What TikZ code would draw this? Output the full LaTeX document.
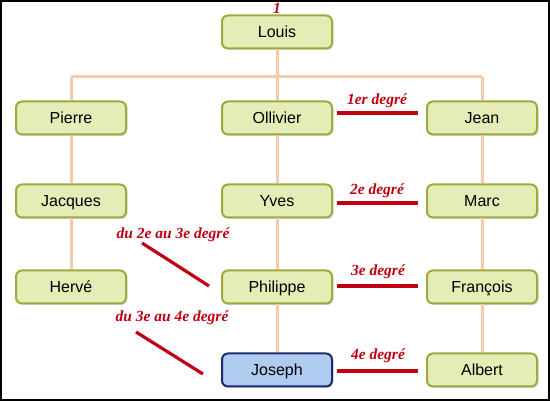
\documentclass[tikz,border=0pt]{standalone}
\usepackage{fontspec}
\setmainfont{Liberation Sans}
\newfontfamily\handfont{Liberation Serif}
\usetikzlibrary{shadows}
\definecolor{boxfill}{HTML}{E5ECB6}
\definecolor{boxline}{HTML}{9CAA3E}
\definecolor{josfill}{HTML}{AFCBF0}
\definecolor{josline}{HTML}{1E2A6E}
\definecolor{treecol}{HTML}{F3CBAA}
\definecolor{degcol}{HTML}{C00012}
\begin{document}
\begin{tikzpicture}[x=1pt,y=-1pt,
  person/.style={draw=boxline, fill=boxfill, line width=2pt, rounded corners=6pt,
    minimum width=110pt, minimum height=33pt, inner sep=0pt,
    text height=13.5pt, text depth=2.5pt,
    font=\fontsize{16}{16}\selectfont,
    drop shadow={shadow xshift=1.5pt, shadow yshift=-1.5pt, opacity=0.3}},
  me/.style={person, draw=josline, fill=josfill},
  tree/.style={draw=treecol, line width=3pt},
  degline/.style={draw=degcol, line width=3.2pt},
  deglabel/.style={text=degcol, font=\handfont\bfseries\itshape\fontsize{15.5}{15.5}\selectfont, inner sep=0pt}]
\useasboundingbox (0,0) rectangle (550,401);
\fill[white] (0,0) rectangle (550,401);
% nodes
\node[person] (louis) at (277,32) {Louis};
\node[person] (pierre) at (71,118) {Pierre};
\node[person] (ollivier) at (277,118) {Ollivier};
\node[person] (jean) at (482,118) {Jean};
\node[person] (jacques) at (71,201) {Jacques};
\node[person] (yves) at (277,201) {Yves};
\node[person] (marc) at (482,201) {Marc};
\node[person] (herve) at (71,287) {Hervé};
\node[person] (philippe) at (277,287) {Philippe};
\node[person] (francois) at (482,287) {François};
\node[me] (joseph) at (277,370) {Joseph};
\node[person] (albert) at (482,370) {Albert};
% tree connectors
\coordinate (hub) at (277,77);
\coordinate (hl) at (71,77);
\coordinate (hr) at (482,77);
\draw[tree] (louis) -- (hub);
\draw[tree] (hl) -- (hr);
\draw[tree] (hl) -- (pierre);
\draw[tree] (hub) -- (ollivier);
\draw[tree] (hr) -- (jean);
\draw[tree] (pierre) -- (jacques);
\draw[tree] (jacques) -- (herve);
\draw[tree] (ollivier) -- (yves);
\draw[tree] (yves) -- (philippe);
\draw[tree] (philippe) -- (joseph);
\draw[tree] (jean) -- (marc);
\draw[tree] (marc) -- (francois);
\draw[tree] (francois) -- (albert);
% degree lines
\coordinate (a1) at (337,113); \coordinate (b1) at (418,113);
\coordinate (a2) at (337,203); \coordinate (b2) at (418,203);
\coordinate (a3) at (337,286); \coordinate (b3) at (418,286);
\coordinate (a4) at (337,371); \coordinate (b4) at (418,371);
\coordinate (d1) at (142,243); \coordinate (e1) at (209,286);
\coordinate (d2) at (136,332); \coordinate (e2) at (203,374);
\draw[degline] (a1) -- (b1);
\draw[degline] (a2) -- (b2);
\draw[degline] (a3) -- (b3);
\draw[degline] (a4) -- (b4);
\draw[degline] (d1) -- (e1);
\draw[degline] (d2) -- (e2);
\node[deglabel] (l1) at (377,101) {1er degré};
\node[deglabel] (l2) at (377,191) {2e degré};
\node[deglabel] (l3) at (378,272) {3e degré};
\node[deglabel] (l4) at (378,356) {4e degré};
\node[deglabel] (l5) at (173,235) {du 2e au 3e degré};
\node[deglabel] (l6) at (172,318) {du 3e au 4e degré};
\node[deglabel] (one) at (277,8) {1};
% frame
\draw[black, line width=2pt] (1,1) rectangle (549,400);
\end{tikzpicture}
\end{document}
